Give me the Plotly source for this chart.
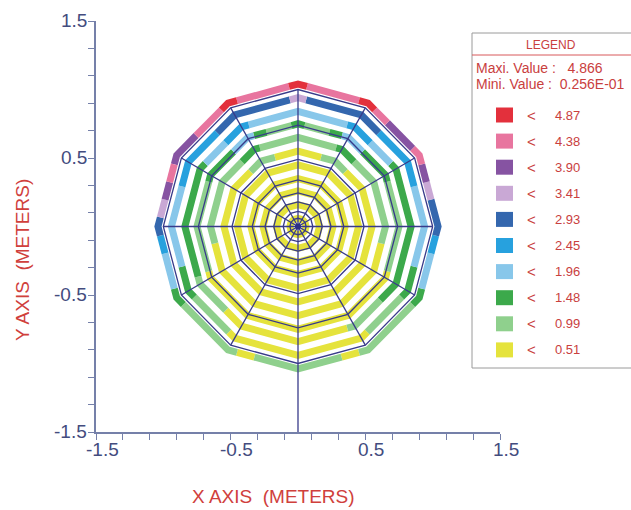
import math
import plotly.graph_objects as go

# ---- data -------------------------------------------------------------
# colour classes of the legend, lowest first (upper bound of each class)
level_limits = [0.51, 0.99, 1.48, 1.96, 2.45, 2.93, 3.41, 3.90, 4.38, 4.87]
level_colors = ["#e5e33c", "#8fd08d", "#3ca94b", "#88c7ea", "#27a1de",
                "#3467ae", "#c9a8d5", "#8653a2", "#e8759f", "#e3303c"]
max_value_text = "4.866"
min_value_text = "0.256E-01"

# radii (m) of the coloured result bands, centre outwards
band_radii = [0.06, 0.16, 0.26, 0.35, 0.45, 0.55, 0.65, 0.75, 0.84, 0.94, 1.04]

# class index of every 7.5-degree sector of each band,
# counter-clockwise starting at the +x direction
band_levels = [
    "000000000000000000000000000000000000000000000000",
    "000000000000000000000000000000000000000000000000",
    "000000000000000000000000000000000000000000000000",
    "000000000000000000000000000000000000000000000000",
    "000000000000000000000000000000000000000000000000",
    "000000011100000111000000000000000000000000000000",
    "111111122111111122111111110000000000000000000001",
    "111122233211211233222111111100000000000000000111",
    "222223344333333344332222222211100000000011122222",
    "333444455555655555444433333221110000000001112233",
    "556787789888988898877876543321111011111011112334",
]

# finite element mesh of the plate: ring radii (m) and radial lines (deg)
mesh_radii = [0.06, 0.11, 0.18, 0.245, 0.34, 0.49, 0.74, 1.0]
mesh_angles = [0, 30, 60, 90, 120, 150, 180, 210, 240, 270, 300, 330]
support_line_y = [-1.0, -1.5]

axis_tick_values = [-1.5, -1.3, -1.1, -0.9, -0.7, -0.5, -0.3, -0.1,
                    0.1, 0.3, 0.5, 0.7, 0.9, 1.1, 1.3, 1.5]
axis_label_values = [-1.5, -0.5, 0.5, 1.5]

# ---- geometry helpers ------------------------------------------------
SECTOR = 7.5
SIDES = 12
SIDE_DEG = 360 / SIDES


def poly_point(R, ang):
    """Point on a 12-gon of circumradius R (vertices at multiples of 30 deg)."""
    local = (ang % SIDE_DEG) - SIDE_DEG / 2
    rho = R * math.cos(math.radians(SIDE_DEG / 2)) / math.cos(math.radians(local))
    return rho * math.cos(math.radians(ang)), rho * math.sin(math.radians(ang))


def poly_arc(R, a0, a1):
    angs = [a0]
    v = math.floor(a0 / SIDE_DEG) * SIDE_DEG + SIDE_DEG
    while v < a1:
        angs.append(v)
        v += SIDE_DEG
    angs.append(a1)
    pts = [poly_point(R, a) for a in angs]
    return [p[0] for p in pts], [p[1] for p in pts]


# collect band pieces per colour class
paths = {i: ([], []) for i in range(len(level_colors))}
for R, code in zip(band_radii, band_levels):
    lv = [int(c) for c in code]
    n = len(lv)
    starts = [i for i in range(n) if lv[i] != lv[i - 1]]
    if not starts:
        xs, ys = poly_arc(R, -SECTOR / 2, 360 - SECTOR / 2)
        paths[lv[0]][0].extend(xs + [None])
        paths[lv[0]][1].extend(ys + [None])
        continue
    for k, s in enumerate(starts):
        e = starts[(k + 1) % len(starts)]
        length = (e - s) % n or n
        a0 = s * SECTOR - SECTOR / 2
        a1 = a0 + length * SECTOR
        xs, ys = poly_arc(R, a0, a1)
        paths[lv[s]][0].extend(xs + [None])
        paths[lv[s]][1].extend(ys + [None])

fig = go.Figure()

for i, col in enumerate(level_colors):
    xs, ys = paths[i]
    if not xs:
        continue
    fig.add_trace(go.Scatter(x=xs, y=ys, mode="lines",
                             line=dict(color=col, width=7),
                             hoverinfo="skip", showlegend=False))

# mesh lines
MESH_COLOR = "#383b8a"
mx, my = [], []
for R in mesh_radii:
    xs, ys = poly_arc(R, 0, 360)
    mx += xs + [None]
    my += ys + [None]
for a in mesh_angles:
    x1, y1 = poly_point(mesh_radii[-1], a)
    mx += [0, x1, None]
    my += [0, y1, None]
mx += [0, 0, None]
my += support_line_y + [None]
fig.add_trace(go.Scatter(x=mx, y=my, mode="lines",
                         line=dict(color=MESH_COLOR, width=1.3),
                         hoverinfo="skip", showlegend=False))
fig.add_trace(go.Scatter(x=[0], y=[0], mode="markers",
                         marker=dict(color="#2c2f85", size=6),
                         hoverinfo="skip", showlegend=False))

# ---- layout ------------------------------------------------------------
W, H = 631, 510
ML, MR, MT, MB = 96, 131, 21, 78
PW, PH = W - ML - MR, H - MT - MB


def px(p):
    return (p - ML) / PW


def py(p):
    return (H - MB - p) / PH


AXIS_COLOR = "#7580a9"
FAMILY = "Liberation Sans, Arial, sans-serif"
TICK_FONT = dict(family=FAMILY, size=19, color="#434c7e")
RED = "#d0403c"
LEG_FONT = dict(family=FAMILY, size=13, color="#c9403e")

axis_common = dict(range=[-1.5, 1.5], showline=True, linecolor=AXIS_COLOR,
                   linewidth=1.5, ticks="outside", ticklen=6, tickwidth=1.2,
                   tickcolor=AXIS_COLOR, tickvals=axis_tick_values,
                   showticklabels=False, showgrid=False, zeroline=False,
                   fixedrange=True)

annotations = []
for v in axis_label_values:
    annotations.append(dict(x=v, y=0, xref="x", yref="paper", text=f"{v:g}",
                            showarrow=False, xanchor="center", yanchor="top",
                            xshift=6, yshift=-5, font=TICK_FONT))
    annotations.append(dict(x=0, y=v, xref="paper", yref="y", text=f"{v:g}",
                            showarrow=False, xanchor="right", yanchor="middle",
                            xshift=-7, yshift=1, font=TICK_FONT))


def note(xp, yp, text, font, xanchor="center", **kw):
    annotations.append(dict(x=px(xp), y=py(yp), xref="paper", yref="paper",
                            text=text, showarrow=False, xanchor=xanchor,
                            yanchor="middle", font=font, **kw))


note(273, 497, "X AXIS  (METERS)", dict(family=FAMILY, size=19, color=RED))
note(22, 260, "Y AXIS  (METERS)", dict(family=FAMILY, size=19, color=RED),
     textangle=-90)

# legend panel
shapes = [
    dict(type="rect", xref="paper", yref="paper", x0=px(472), x1=px(645),
         y0=py(368), y1=py(33), line=dict(color="#9a9a9a", width=1)),
    dict(type="line", xref="paper", yref="paper", x0=px(472), x1=px(645),
         y0=py(55), y1=py(55), line=dict(color="#d8585a", width=1)),
]
note(551, 45, "LEGEND", dict(LEG_FONT, size=12))
note(474, 68, f"Maxi. Value :  &nbsp;{max_value_text}", dict(LEG_FONT, size=14),
     xanchor="left")
note(474, 84, f"Mini. Value :  {min_value_text}", dict(LEG_FONT, size=14),
     xanchor="left")

ROW0, ROW_STEP = 115, 26.1
for row, idx in enumerate(reversed(range(len(level_limits)))):
    yc = ROW0 + row * ROW_STEP
    shapes.append(dict(type="rect", xref="paper", yref="paper",
                       x0=px(496), x1=px(513), y0=py(yc + 7.5), y1=py(yc - 7.5),
                       fillcolor=level_colors[idx], line=dict(width=0)))
    note(531, yc, "<", dict(LEG_FONT, size=15))
    note(553, yc, f"{level_limits[idx]:.2f}", LEG_FONT, xanchor="left")

fig.update_layout(
    width=W, height=H, autosize=False,
    margin=dict(l=ML, r=MR, t=MT, b=MB),
    paper_bgcolor="white", plot_bgcolor="white",
    xaxis=axis_common, yaxis=axis_common,
    annotations=annotations, shapes=shapes,
    showlegend=False,
)

fig.write_html("out.html")
